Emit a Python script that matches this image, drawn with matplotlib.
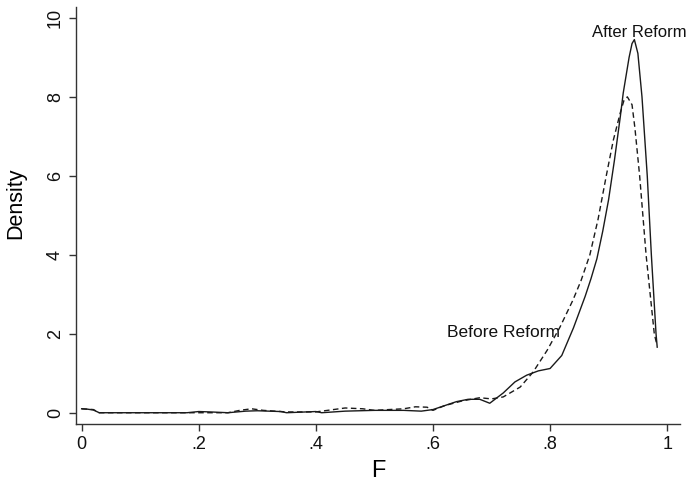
import matplotlib
matplotlib.use("Agg")

import matplotlib.pyplot as plt

# ---------- Data ----------
after_f = [0.0, 0.01, 0.02, 0.03, 0.05, 0.10, 0.18, 0.20, 0.22, 0.25, 0.28, 0.30,
           0.34, 0.35, 0.40, 0.41, 0.45, 0.50, 0.55, 0.58, 0.60, 0.62, 0.64, 0.66,
           0.68, 0.697, 0.72, 0.74, 0.76, 0.78, 0.80, 0.82, 0.84, 0.86, 0.87, 0.88,
           0.89, 0.90, 0.91, 0.92, 0.925, 0.935, 0.94, 0.944, 0.95, 0.957, 0.966,
           0.973, 0.981, 0.983]
after_d = [0.10, 0.09, 0.07, 0.0, 0.0, 0.0, 0.0, 0.03, 0.02, 0.0, 0.04, 0.05,
           0.03, 0.0, 0.03, 0.0, 0.04, 0.06, 0.06, 0.04, 0.08, 0.18, 0.28, 0.34,
           0.34, 0.24, 0.50, 0.78, 0.95, 1.06, 1.12, 1.45, 2.15, 2.95, 3.40, 3.90,
           4.60, 5.40, 6.40, 7.50, 8.10, 9.00, 9.35, 9.45, 9.10, 8.00, 6.00,
           4.00, 2.00, 1.66]

before_f = [0.0, 0.02, 0.03, 0.10, 0.25, 0.27, 0.29, 0.31, 0.35, 0.40, 0.43, 0.45,
            0.48, 0.50, 0.55, 0.57, 0.59, 0.60, 0.62, 0.65, 0.68, 0.70, 0.72, 0.749,
            0.771, 0.795, 0.817, 0.839, 0.853, 0.868, 0.882, 0.896, 0.908, 0.92,
            0.926, 0.932, 0.94, 0.945, 0.953, 0.964, 0.978, 0.982]
before_d = [0.10, 0.08, 0.0, 0.0, 0.0, 0.06, 0.10, 0.06, 0.02, 0.02, 0.08, 0.12,
            0.10, 0.06, 0.10, 0.15, 0.14, 0.06, 0.18, 0.30, 0.38, 0.35, 0.40, 0.65,
            1.03, 1.58, 2.17, 2.85, 3.35, 4.00, 4.90, 6.00, 6.90, 7.60,
            7.90, 8.00, 7.80, 7.20, 6.00, 4.00, 2.00, 1.75]

x_ticks = [0, 0.2, 0.4, 0.6, 0.8, 1.0]
x_labels = ["0", ".2", ".4", ".6", ".8", "1"]
y_ticks = [0, 2, 4, 6, 8, 10]

plt.rcParams["font.family"] = ["Liberation Sans", "DejaVu Sans"]

# ---------- Figure ----------
fig = plt.figure(figsize=(6.89, 4.87), dpi=100)
ax = fig.add_axes([0.110, 0.129, 0.877, 0.857])

ax.plot(after_f, after_d, color="#1a1a1a", linewidth=1.0)
ax.plot(before_f, before_d, color="#1a1a1a", linewidth=1.0, linestyle=(0, (4, 2.5)))

ax.text(0.872, 9.62, "After Reform", fontsize=12, ha="left", va="center", color="#111111")
ax.text(0.624, 2.04, "Before Reform", fontsize=12.5, ha="left", va="center", color="#111111")

ax.set_xlim(-0.01, 1.022)
ax.set_ylim(-0.29, 10.28)

ax.set_xticks(x_ticks)
ax.set_xticklabels(x_labels)
ax.set_yticks(y_ticks)
ax.set_yticklabels([str(v) for v in y_ticks], rotation=90, va="center")
ax.tick_params(axis="both", labelsize=13, length=5, width=1, color="#333333",
               labelcolor="#111111")

ax.set_xlabel("F", fontsize=17, labelpad=5)
ax.set_ylabel("Density", fontsize=15.5)
ax.yaxis.set_label_coords(-0.082, 0.53)

ax.spines["top"].set_visible(False)
ax.spines["right"].set_visible(False)
for side in ["left", "bottom"]:
    ax.spines[side].set_color("#333333")
    ax.spines[side].set_linewidth(1.0)

fig.savefig("out.png", dpi=100)
